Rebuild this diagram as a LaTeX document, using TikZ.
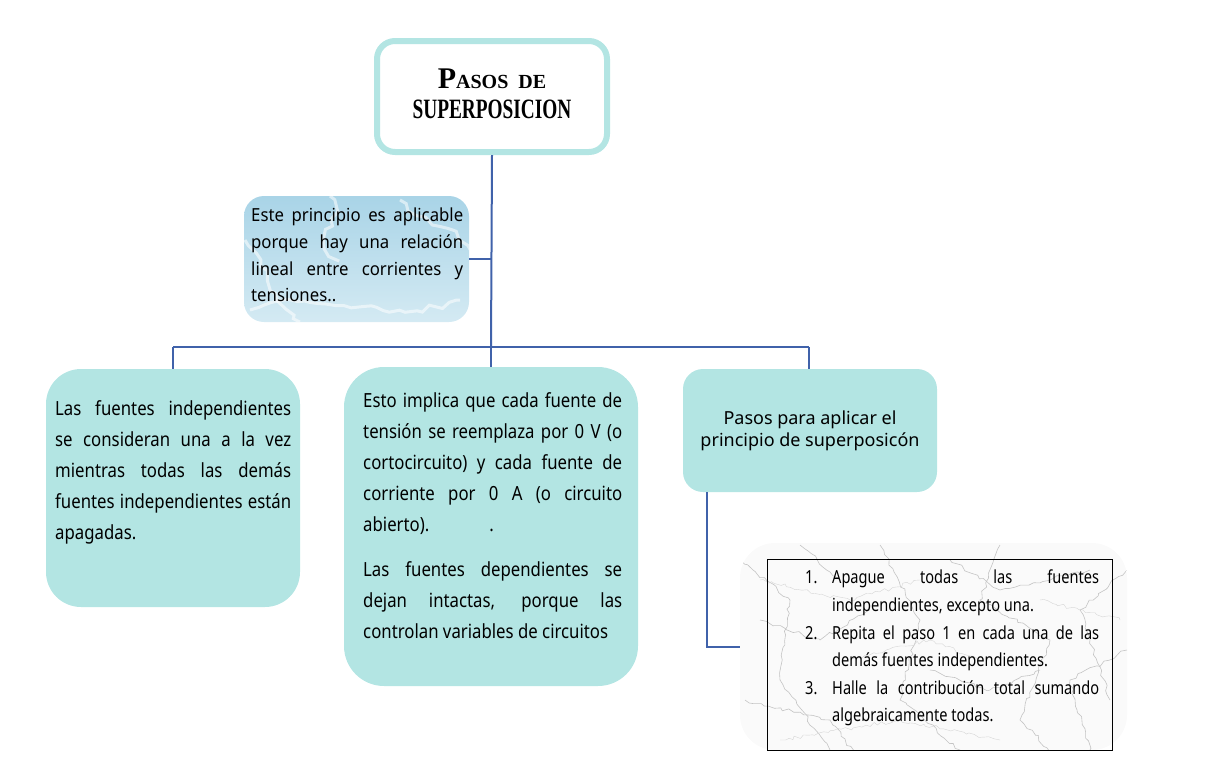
\documentclass[tikz,border=0pt]{standalone}
\usepackage{fontspec}
\setmainfont{Noto Sans}
\newfontfamily\cond{Noto Sans}[FakeStretch=0.86]
\newfontfamily\bluefont{Noto Sans}[FakeStretch=0.93]
\newfontfamily\listfont{Noto Sans}[FakeStretch=0.81]
\newfontfamily\titlefont{Liberation Serif}[FakeStretch=0.69]
\newfontfamily\titlewide{Liberation Serif}
\usetikzlibrary{decorations.pathmorphing}
\definecolor{teal1}{HTML}{B3E5E3}
\definecolor{linkblue}{HTML}{4062AA}
\definecolor{skyA}{HTML}{A9D4E7}
\definecolor{skyB}{HTML}{D4EAF3}
\definecolor{marble}{HTML}{FAFAFA}
\definecolor{vein}{HTML}{C4C4C4}
\newcommand{\jl}[2]{\makebox[#1][s]{#2}}
\tikzset{
  link/.style={draw=linkblue, line width=2pt},
  tealbox/.style={fill=teal1, draw=none, inner sep=0pt},
  bodytext/.style={inner sep=0pt, align=left, anchor=north west, font=\cond\fontsize{19.5}{31.2}\selectfont},
  veinline/.style={draw=vein, line width=0.6pt, decorate, decoration={random steps, segment length=5pt, amplitude=2pt}},
  veinthin/.style={draw=vein!70, line width=0.4pt, decorate, decoration={random steps, segment length=4pt, amplitude=2pt}},
  swirl/.style={draw=white, opacity=0.55, line width=3pt, decorate, decoration={random steps, segment length=8pt, amplitude=3pt}},
}
\begin{document}
\begin{tikzpicture}[x=1pt,y=-1pt]
\useasboundingbox (0,0) rectangle (1221,772);
% title
\node[draw=teal1, line width=6pt, fill=white, rounded corners=18pt, minimum width=230pt, minimum height=111pt, inner sep=0pt] (title) at (492,96.5) {};
\node[inner sep=0pt, align=center, font=\titlefont\bfseries\fontsize{28}{30}\selectfont] (titletext) at (492,94)
  {{\titlewide\bfseries\fontsize{30}{30}\selectfont P\fontsize{20}{30}\selectfont ASOS\ \ DE}\\SUPERPOSICION};
% blue box
\node[rounded corners=20pt, top color=skyA, bottom color=skyB, draw=none, minimum width=225pt, minimum height=126pt, inner sep=0pt] (blue) at (356.5,259) {};
\begin{scope}
  \clip[rounded corners=20pt] (blue.south west) rectangle (blue.north east);
  \path[swirl] (250,310) .. controls (320,280) and (380,330) .. (460,300);
  \path[swirl] (400,200) .. controls (430,230) and (450,220) .. (470,250);
  \path[swirl] (245,240) .. controls (270,260) and (260,290) .. (300,322);
  \path[swirl] (330,196) .. controls (350,220) and (300,240) .. (340,260);
\end{scope}
\node[inner sep=0pt, align=left, anchor=north west, font=\bluefont\fontsize{18}{26.7}\selectfont] (bluetext) at (251,208)
  {\jl{212pt}{Este principio es aplicable}\\\jl{212pt}{porque hay una relación}\\\jl{212pt}{lineal entre corrientes y}\\tensiones..};
% left box
\node[tealbox, rounded corners=35pt, minimum width=254pt, minimum height=238pt] (left) at (173,488) {};
\node[bodytext] (lefttext) at (55,400)
  {\jl{236pt}{Las fuentes independientes}\\\jl{236pt}{se consideran una a la vez}\\\jl{236pt}{mientras todas las demás}\\\jl{236pt}{fuentes independientes están}\\apagadas.};
% center box
\node[tealbox, rounded corners=40pt, minimum width=294pt, minimum height=319pt] (center) at (491,526.5) {};
\node[bodytext] (centertext) at (363,392)
  {\jl{259pt}{Esto implica que cada fuente de}\\\jl{259pt}{tensión se reemplaza por 0 V (o}\\\jl{259pt}{cortocircuito) y cada fuente de}\\\jl{259pt}{corriente por 0 A (o circuito}\\abierto).\hspace*{60pt}.\\[13pt]
  \jl{259pt}{Las fuentes dependientes se}\\\jl{259pt}{dejan intactas, porque las}\\controlan variables de circuitos};
% right box
\node[tealbox, rounded corners=20pt, minimum width=254pt, minimum height=123pt] (right) at (810,430.5) {};
\node[inner sep=0pt, align=center, font=\fontsize{18}{22}\selectfont] (righttext) at (810,431)
  {Pasos para aplicar el\\principio de superposicón};
% marble box
\node[rounded corners=35pt, fill=marble, draw=none, minimum width=387pt, minimum height=207pt, inner sep=0pt] (marblebox) at (933.5,646.5) {};
\begin{scope}
  \clip[rounded corners=35pt] (marblebox.south west) rectangle (marblebox.north east);
  \path[veinline] (740,560) -- (790,600) -- (780,680) -- (830,750);
  \path[veinline] (1127,570) -- (1080,610) -- (1110,700);
  \path[veinline] (745,700) -- (830,720) -- (860,760);
  \path[veinline] (1000,545) -- (980,600) -- (1050,640) -- (1020,720) -- (1060,760);
  \path[veinline] (880,545) -- (920,620) -- (900,700) -- (960,750);
  \path[veinline] (1127,650) -- (1070,680) -- (1090,750);
  \path[veinline] (760,620) -- (820,640) -- (870,610);
  \path[veinline] (950,560) -- (1000,590) -- (1090,570);
  \path[veinline] (930,670) -- (990,690) -- (1040,670);
  \path[veinline] (800,545) -- (840,580);
  \path[veinthin] (760,580) -- (850,600) -- (920,580);
  \path[veinthin] (850,660) -- (930,640) -- (980,660);
  \path[veinthin] (780,740) -- (900,720) -- (1000,740);
  \path[veinthin] (1040,600) -- (1120,620);
\end{scope}
\node[draw=black, line width=0.8pt, fill=none, minimum width=345pt, minimum height=191pt, inner sep=0pt] (listframe) at (939.5,654.5) {};
\node[inner sep=0pt, anchor=north west, align=left, font=\listfont\fontsize{18}{27.6}\selectfont] (listtext) at (805,570)
  {\makebox[27pt][l]{1.}\jl{267pt}{Apague todas las fuentes}\\
   \hspace*{27pt}independientes, excepto una.\\
   \makebox[27pt][l]{2.}\jl{267pt}{Repita el paso 1 en cada una de las}\\
   \hspace*{27pt}demás fuentes independientes.\\
   \makebox[27pt][l]{3.}\jl{267pt}{Halle la contribución total sumando}\\
   \hspace*{27pt}algebraicamente todas.};
% connectors
\coordinate (trunk) at (491,347);
\coordinate (sidept) at (491,259);
\coordinate (busL) at (173,347);
\coordinate (busR) at (809,347);
\coordinate (rdrop) at (707,492);
\draw[link] (title.south) -- (trunk);
\draw[link] (sidept) -- (blue.east);
\draw[link] (busL) -- (busR);
\draw[link] (busL) -- (left.north);
\draw[link] (trunk) -- (center.north);
\draw[link] (busR) -- (busR |- right.north);
\draw[link] (rdrop) |- (marblebox.west);
\end{tikzpicture}
\end{document}
